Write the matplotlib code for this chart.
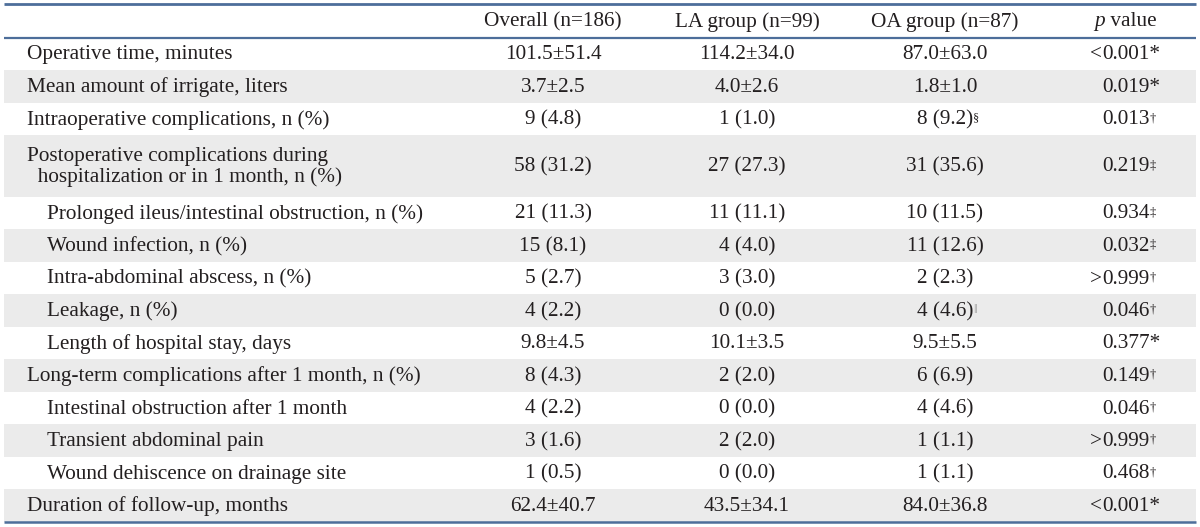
import matplotlib
matplotlib.use("Agg")
import matplotlib.pyplot as plt
from matplotlib.patches import Rectangle

# ---- data ----
headers = ["Overall (n=186)", "LA group (n=99)", "OA group (n=87)"]
labels = [
    "Operative time, minutes",
    "Mean amount of irrigate, liters",
    "Intraoperative complications, n (%)",
    "Postoperative complications during\n  hospitalization or in 1 month, n (%)",
    "Prolonged ileus/intestinal obstruction, n (%)",
    "Wound infection, n (%)",
    "Intra-abdominal abscess, n (%)",
    "Leakage, n (%)",
    "Length of hospital stay, days",
    "Long-term complications after 1 month, n (%)",
    "Intestinal obstruction after 1 month",
    "Transient abdominal pain",
    "Wound dehiscence on drainage site",
    "Duration of follow-up, months",
]
indent = [0, 0, 0, 0, 1, 1, 1, 1, 1, 0, 1, 1, 1, 0]
overall = ["101.5±51.4", "3.7±2.5", "9 (4.8)", "58 (31.2)", "21 (11.3)", "15 (8.1)",
           "5 (2.7)", "4 (2.2)", "9.8±4.5", "8 (4.3)", "4 (2.2)", "3 (1.6)",
           "1 (0.5)", "62.4±40.7"]
la_group = ["114.2±34.0", "4.0±2.6", "1 (1.0)", "27 (27.3)", "11 (11.1)", "4 (4.0)",
            "3 (3.0)", "0 (0.0)", "10.1±3.5", "2 (2.0)", "0 (0.0)", "2 (2.0)",
            "0 (0.0)", "43.5±34.1"]
oa_group = ["87.0±63.0", "1.8±1.0", "8 (9.2)", "31 (35.6)", "10 (11.5)", "11 (12.6)",
            "2 (2.3)", "4 (4.6)", "9.5±5.5", "6 (6.9)", "4 (4.6)", "1 (1.1)",
            "1 (1.1)", "84.0±36.8"]
oa_sup = ["", "", "§", "", "", "", "", "‖", "", "", "", "", "", ""]
p_values = ["<0.001", "0.019", "0.013", "0.219", "0.934", "0.032", ">0.999", "0.046",
            "0.377", "0.149", "0.046", ">0.999", "0.468", "<0.001"]
p_sup = ["*", "*", "†", "‡", "‡", "‡", "†", "†", "*", "†", "†", "†", "†", "*"]
row_units = [1, 1, 1, 1.9, 1, 1, 1, 1, 1, 1, 1, 1, 1, 1]

# ---- style ----
FONT = ["Liberation Serif", "DejaVu Serif"]
FS = 15.3
SUP_FS = 9
TXT = "#231f20"
LINE = "#4d6e9a"
SHADE = "#ebebeb"

W, H = 1200, 527
fig = plt.figure(figsize=(W / 100, H / 100), dpi=100)
ax = fig.add_axes([0, 0, 1, 1])
ax.set_xlim(0, W)
ax.set_ylim(H, 0)
ax.axis("off")

x0, x1 = 4, 1196
top, head_bot = 4, 37.5
unit = 32.5
col_x = [553, 747, 945]
p_x = 1102
label_x = [27, 47]

# header
hy = (top + head_bot) / 2 + 1
for cx, h in zip(col_x, headers):
    ax.text(cx, hy, h, ha="center", va="center", fontsize=FS, family=FONT, color=TXT)
pt = ax.text(1094, hy, "p", ha="left", va="center", fontsize=FS, family=FONT,
             style="italic", color=TXT)
ax.annotate(" value", xy=(1, 0), xycoords=pt, ha="left", va="bottom",
            fontsize=FS, family=FONT, color=TXT)

# rows
y = head_bot
for i, lab in enumerate(labels):
    h = unit * row_units[i]
    if i % 2 == 1:
        ax.add_patch(Rectangle((x0, y), x1 - x0, h, facecolor=SHADE, edgecolor="none", zorder=0))
    cy = y + h / 2 + 1
    ax.text(label_x[indent[i]], cy, lab, ha="left", va="center", fontsize=FS,
            family=FONT, color=TXT, linespacing=1.1)
    ax.text(col_x[0], cy, overall[i], ha="center", va="center", fontsize=FS, family=FONT, color=TXT)
    ax.text(col_x[1], cy, la_group[i], ha="center", va="center", fontsize=FS, family=FONT, color=TXT)
    t = ax.text(col_x[2], cy, oa_group[i], ha="center", va="center", fontsize=FS, family=FONT, color=TXT)
    if oa_sup[i]:
        ax.annotate(oa_sup[i], xy=(1, 0.9), xycoords=t, ha="left", va="top",
                    fontsize=SUP_FS, family=["Liberation Serif", "DejaVu Sans"],
                    color="#999999" if oa_sup[i] == "‖" else TXT)
    pv = p_values[i]
    prefix = ""
    if pv[0] in "<>":
        prefix, pv = pv[0], pv[1:]
    if prefix:
        ax.text(p_x, cy, prefix, ha="right", va="center", fontsize=FS, family=FONT, color=TXT)
    if p_sup[i] == "*":
        ax.text(p_x, cy, pv + "*", ha="left", va="center", fontsize=FS, family=FONT, color=TXT)
    else:
        tp = ax.text(p_x, cy, pv, ha="left", va="center", fontsize=FS, family=FONT, color=TXT)
        ax.annotate(p_sup[i], xy=(1, 0.9), xycoords=tp, ha="left", va="top",
                    fontsize=SUP_FS, family=["Liberation Serif", "DejaVu Sans"], color=TXT)
    y += h

bottom = y
for yy, lw in [(top, 2.0), (head_bot, 1.6), (bottom, 1.8)]:
    ax.plot([x0, x1], [yy, yy], color=LINE, lw=lw, solid_capstyle="butt")

fig.savefig("out.png", dpi=100)
